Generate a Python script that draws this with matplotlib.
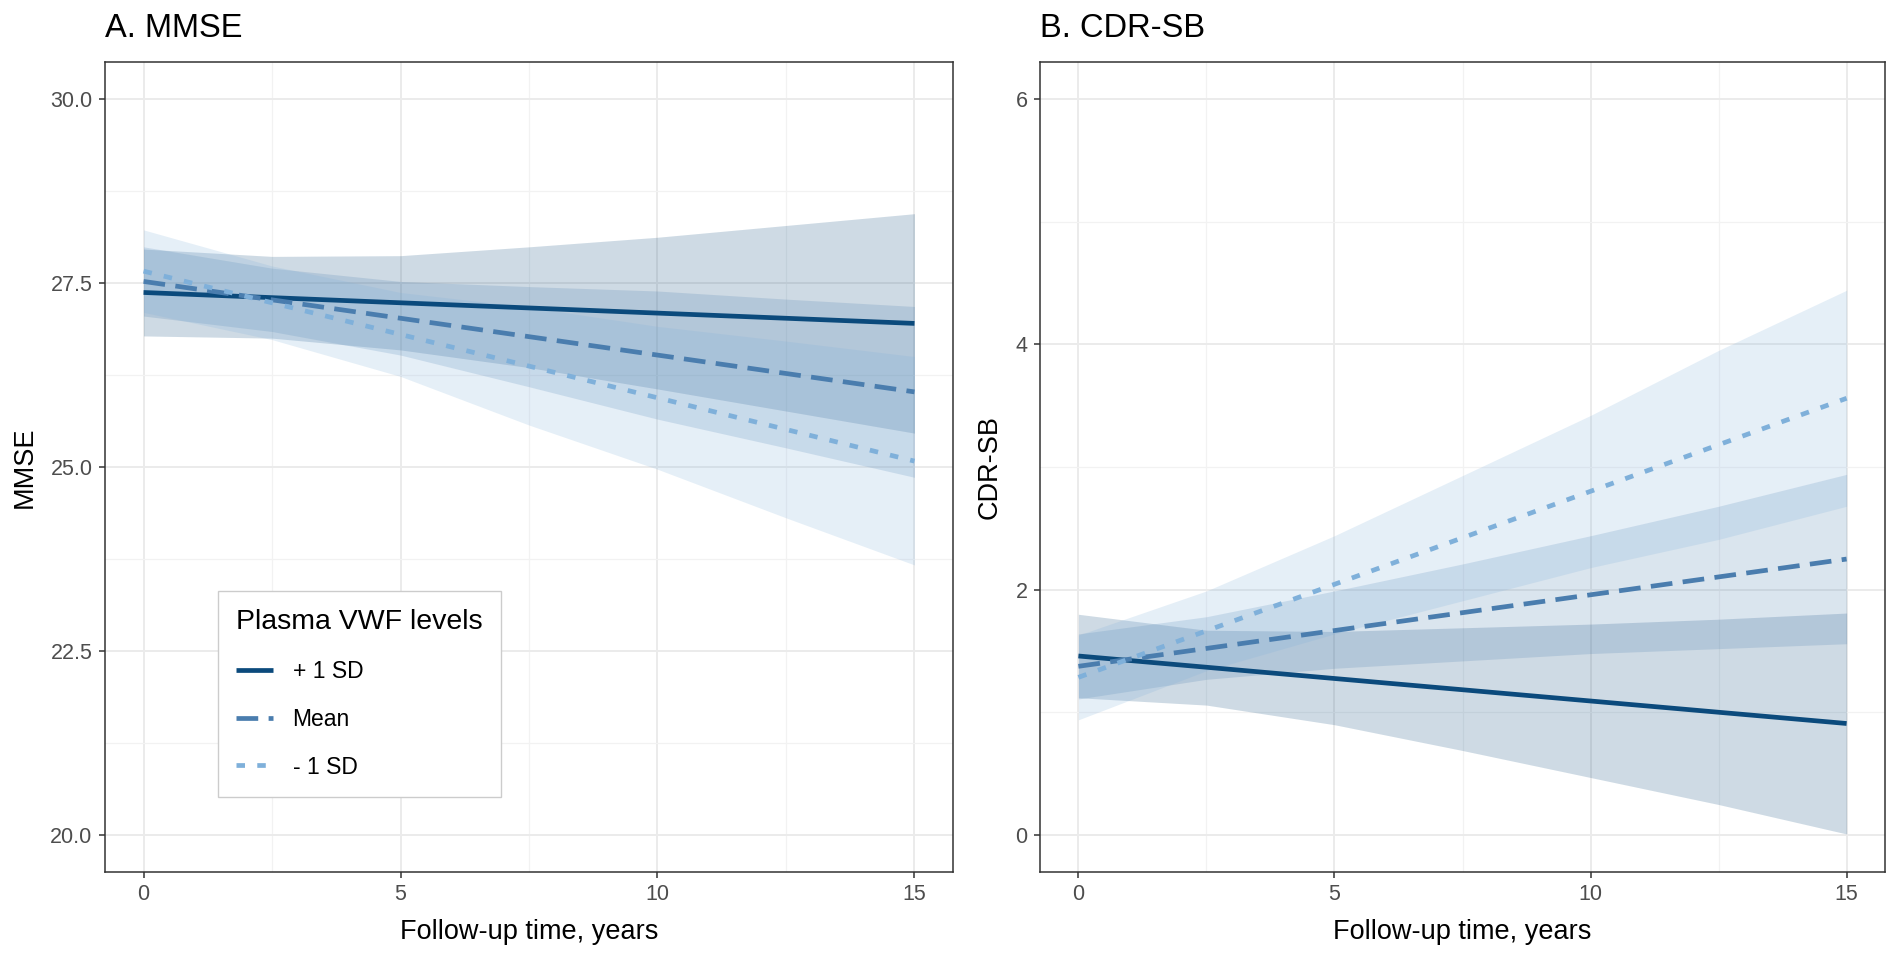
import matplotlib
matplotlib.use("Agg")
import matplotlib.pyplot as plt

plt.rcParams['font.family'] = ['Liberation Sans', 'DejaVu Sans']

# ---- data ----
groups = ["+ 1 SD", "Mean", "- 1 SD"]
line_years = [0, 15]
band_years = [0, 2.5, 5, 7.5, 10, 12.5, 15]

# A. MMSE
mmse_hi_fit = [27.37, 26.95]
mmse_hi_up = [27.96, 27.86, 27.87, 27.99, 28.12, 28.28, 28.44]
mmse_hi_lo = [26.78, 26.75, 26.59, 26.35, 26.06, 25.76, 25.46]
mmse_mid_fit = [27.52, 26.02]
mmse_mid_up = [27.99, 27.70, 27.52, 27.45, 27.39, 27.28, 27.18]
mmse_mid_lo = [27.05, 26.84, 26.52, 26.09, 25.65, 25.26, 24.86]
mmse_lo_fit = [27.66, 25.08]
mmse_lo_up = [28.22, 27.73, 27.37, 27.17, 26.91, 26.71, 26.50]
mmse_lo_lo = [27.10, 26.73, 26.23, 25.57, 24.97, 24.31, 23.67]

# B. CDR-SB
cdr_hi_fit = [1.46, 0.91]
cdr_hi_up = [1.80, 1.67, 1.66, 1.69, 1.72, 1.76, 1.81]
cdr_hi_lo = [1.12, 1.06, 0.90, 0.69, 0.47, 0.25, 0.01]
cdr_mid_fit = [1.376, 2.25]
cdr_mid_up = [1.64, 1.78, 1.99, 2.21, 2.44, 2.68, 2.94]
cdr_mid_lo = [1.11, 1.27, 1.36, 1.42, 1.48, 1.52, 1.56]
cdr_lo_fit = [1.286, 3.56]
cdr_lo_up = [1.63, 1.99, 2.44, 2.93, 3.42, 3.95, 4.44]
cdr_lo_lo = [0.94, 1.34, 1.64, 1.91, 2.18, 2.41, 2.68]

colors = ["#0B4A7C", "#4A7DAE", "#7FB0DA"]
dashes = [None, (4.6, 2.2), (1.8, 2.6)]

fig = plt.figure(figsize=(19.02, 9.68), dpi=100)
W, H = 1902, 968
axA = fig.add_axes([105 / W, 96 / H, 848 / W, 810 / H])
axB = fig.add_axes([1040 / W, 96 / H, 845 / W, 810 / H])

panels = [
    (axA, "A. MMSE", "MMSE",
     [(mmse_hi_fit, mmse_hi_lo, mmse_hi_up),
      (mmse_mid_fit, mmse_mid_lo, mmse_mid_up),
      (mmse_lo_fit, mmse_lo_lo, mmse_lo_up)],
     (19.5, 30.5), [20.0, 22.5, 25.0, 27.5, 30.0], [21.25, 23.75, 26.25, 28.75], "%.1f"),
    (axB, "B. CDR-SB", "CDR-SB",
     [(cdr_hi_fit, cdr_hi_lo, cdr_hi_up),
      (cdr_mid_fit, cdr_mid_lo, cdr_mid_up),
      (cdr_lo_fit, cdr_lo_lo, cdr_lo_up)],
     (-0.3, 6.3), [0, 2, 4, 6], [1, 3, 5], "%d"),
]

for ax, title, ylab, series, ylim, yt, ymin, fmt in panels:
    # ribbons first, then lines (ggplot order)
    for (fit, lo, up), c in zip(series, colors):
        ax.fill_between(band_years, lo, up, color=c, alpha=0.2, lw=0, zorder=2)
    for (fit, lo, up), c, d, g in zip(series, colors, dashes, groups):
        ln, = ax.plot(line_years, fit, color=c, lw=3.4, solid_capstyle='butt',
                      dash_capstyle='butt', label=g, zorder=3)
        if d is not None:
            ln.set_dashes(d)
    ax.set_xlim(-0.75, 15.75)
    ax.set_ylim(*ylim)
    ax.set_xticks([0, 5, 10, 15])
    ax.set_xticks([2.5, 7.5, 12.5], minor=True)
    ax.set_yticks(yt)
    ax.set_yticklabels([fmt % v for v in yt])
    ax.set_yticks(ymin, minor=True)
    ax.grid(which='major', color='#EBEBEB', lw=1.4, zorder=0)
    ax.grid(which='minor', color='#F2F2F2', lw=0.9, zorder=0)
    ax.set_axisbelow(True)
    for s in ax.spines.values():
        s.set_color('#333333')
        s.set_linewidth(1.1)
        s.set_zorder(5)
    ax.tick_params(which='major', length=4, width=1.1, color='#333333',
                   labelsize=15.5, labelcolor='#4D4D4D')
    ax.tick_params(axis='x', pad=5)
    ax.tick_params(axis='y', pad=5)
    ax.tick_params(which='minor', length=0)
    ax.set_xlabel("Follow-up time, years", fontsize=19.5, labelpad=10)
    ax.set_ylabel(ylab, fontsize=19.5, labelpad=9)
    ax.text(0, 1 + 25 / 810, title, transform=ax.transAxes, fontsize=23.5,
            ha='left', va='baseline')

leg = axA.legend(loc='upper left', bbox_to_anchor=(0.1333, 0.347), title="Plasma VWF levels",
                 fontsize=16.5, title_fontsize=20.5, handlelength=1.62, handletextpad=0.83,
                 labelspacing=1.08, borderpad=0.8, frameon=True, fancybox=False,
                 framealpha=1, edgecolor='#CCCCCC', borderaxespad=0)
leg.get_frame().set_linewidth(1.0)
leg._legend_box.align = "left"

fig.savefig("out.png", dpi=100)
